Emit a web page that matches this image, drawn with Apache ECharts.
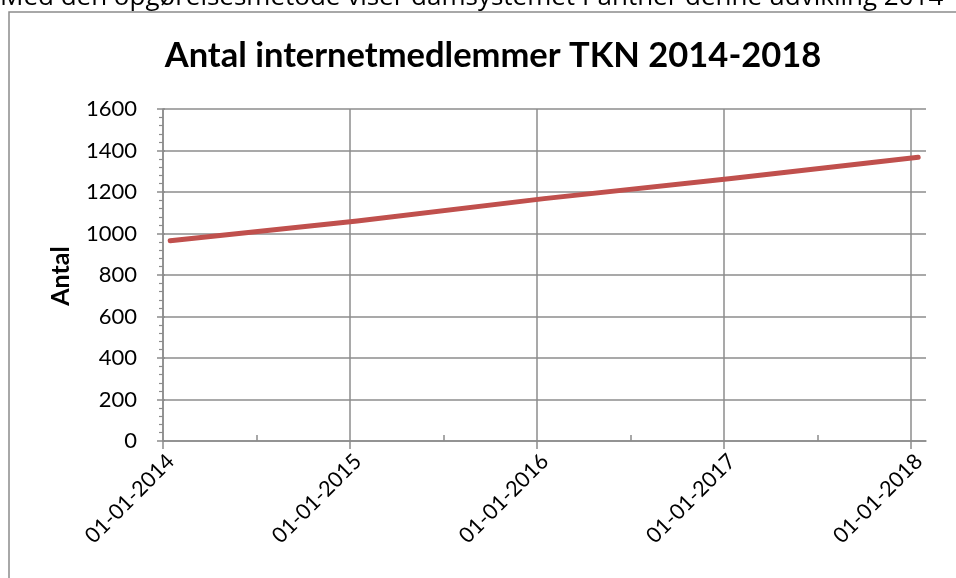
<!DOCTYPE html>
<html>
<head>
<meta charset="utf-8">
<script src="https://cdn.jsdelivr.net/npm/echarts@6/dist/echarts.min.js"></script>
<style>
html,body{margin:0;padding:0;background:#fff;}
#chart{width:956px;height:578px;}
</style>
</head>
<body>
<div id="chart"></div>
<script>
// ---- data ----
const pointDates = ['2014-01-15', '2015-01-15', '2016-01-15', '2017-01-15', '2018-01-15'];
const members = [965, 1060, 1168, 1265, 1367];
const tickYears = [2014, 2015, 2016, 2017, 2018];
const tickLabels = ['01-01-2014', '01-01-2015', '01-01-2016', '01-01-2017', '01-01-2018'];
const halfYears = [2014.5, 2015.5, 2016.5, 2017.5];
const titleText = 'Antal internetmedlemmer TKN 2014-2018';
const yName = 'Antal';
const aboveText = 'Med den opgørelsesmetode viser damsystemet Panther denne udvikling 2014';

function decimalYear(s) {
  const d = new Date(s + 'T00:00:00Z');
  const y = d.getUTCFullYear();
  const start = Date.UTC(y, 0, 1), end = Date.UTC(y + 1, 0, 1);
  return y + (d.getTime() - start) / (end - start);
}
const seriesData = pointDates.map((s, i) => [decimalYear(s), members[i]]);

const gridColor = '#8c8c8c';
const font = 'Lato, "Open Sans", sans-serif';
const xMin = 2014, xMax = 2018.08;

const chart = echarts.init(document.getElementById('chart'), null, {renderer: 'canvas'});
chart.setOption({
  animation: false,
  backgroundColor: '#ffffff',
  title: {
    text: titleText,
    left: 488, top: 33, textAlign: 'center',
    textStyle: {fontFamily: font, fontWeight: 'bold', fontSize: 34.5, color: '#000'}
  },
  grid: {left: 163, right: 30, top: 109, bottom: 137, containLabel: false},
  xAxis: [{
    type: 'value', min: xMin, max: xMax,
    axisLine: {show: true, lineStyle: {color: gridColor, width: 1.5}},
    axisTick: {show: true, customValues: tickYears, length: 8, lineStyle: {color: gridColor, width: 1.5}},
    axisLabel: {
      customValues: tickYears, rotate: 45, margin: 9, verticalAlign: 'top',
      fontFamily: font, fontSize: 21.5, color: '#000',
      formatter: v => tickLabels[tickYears.indexOf(Math.round(v))]
    },
    splitLine: {show: true, lineStyle: {color: gridColor, width: 1.5}}
  }, {
    type: 'value', min: xMin, max: xMax, position: 'bottom',
    axisLine: {show: false},
    axisTick: {show: true, inside: true, customValues: halfYears, length: 6, lineStyle: {color: gridColor, width: 1.5}},
    axisLabel: {show: false},
    splitLine: {show: false}
  }],
  yAxis: [{
    type: 'value', min: 0, max: 1600, interval: 200,
    axisLine: {show: true, lineStyle: {color: gridColor, width: 1.5}},
    axisTick: {show: true, length: 6, lineStyle: {color: gridColor, width: 1.5}},
    minorTick: {show: true, splitNumber: 5, length: 4, lineStyle: {color: gridColor, width: 1.2}},
    axisLabel: {margin: 26, fontFamily: font, fontSize: 22, color: '#000', formatter: v => String(v)},
    splitLine: {show: true, lineStyle: {color: gridColor, width: 1.5}}
  }, {
    type: 'value', min: 0, max: 1600, interval: 200, position: 'left',
    axisLine: {show: false},
    axisTick: {show: true, inside: true, length: 2, lineStyle: {color: gridColor, width: 1.5}},
    axisLabel: {show: false},
    splitLine: {show: false}
  }],
  graphic: [
    {type: 'rect', shape: {x: 9, y: 12, width: 1000, height: 700},
     style: {fill: 'none', stroke: '#8c8c8c', lineWidth: 1.5}, z: -10},
    {type: 'text', x: 0, y: -2,
     style: {text: aboveText, font: '26px "Open Sans", sans-serif', fill: '#000', textAlign: 'left', textVerticalAlign: 'middle'}},
    {type: 'text', x: 61, y: 276, rotation: Math.PI / 2,
     style: {text: yName, font: 'bold 25px Lato, sans-serif', fill: '#000', textAlign: 'center', textVerticalAlign: 'middle'}}
  ],
  series: [{
    type: 'line', xAxisIndex: 0, yAxisIndex: 0,
    data: seriesData, symbol: 'none', showSymbol: false,
    lineStyle: {color: '#C0504D', width: 5, cap: 'round', join: 'round'}
  }]
});
</script>
</body>
</html>
